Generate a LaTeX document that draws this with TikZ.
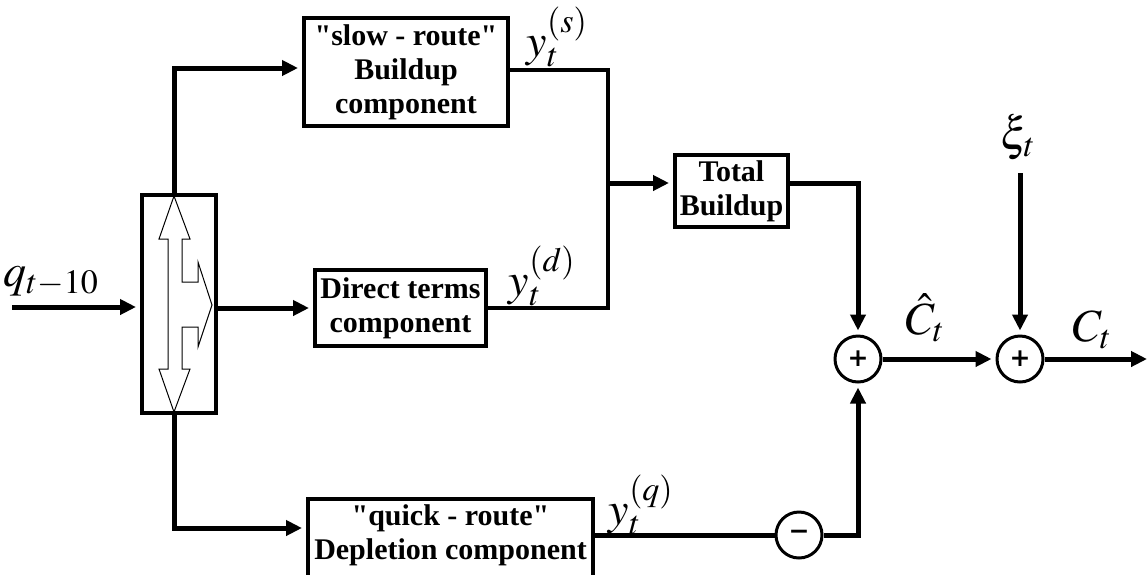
\documentclass[tikz,border=0pt]{standalone}
\usepackage{mathptmx}
\usepackage{fontspec}
\setmainfont{Liberation Serif}
\newfontfamily\signfont{DejaVu Sans}
\usetikzlibrary{arrows.meta,calc}
\begin{document}
\begin{tikzpicture}[x=1pt,y=-1pt,
  blk/.style={draw,line width=4pt,align=center,inner sep=0pt,font=\bfseries\fontsize{30}{34}\selectfont},
  btxt/.style={align=center,inner sep=0pt,font=\bfseries\fontsize{30}{34}\selectfont},
  sumnode/.style={circle,draw,line width=3pt,minimum size=46pt,inner sep=0pt},
  sign/.style={inner sep=0pt,font=\signfont\bfseries\fontsize{25}{25}\selectfont},
  arr/.style={line width=5pt,line join=miter,shorten >=4pt,-{Triangle[length=16pt,width=15pt]}},
  thinline/.style={line width=3.5pt,line join=miter},
  lbl/.style={inner sep=0pt,font=\fontsize{46}{50}\selectfont}]
\useasboundingbox (0,0) rectangle (1147,574);
% blocks
\node[blk,minimum width=204pt,minimum height=108pt] (slow) at (406,72) {\textquotedbl slow - route\textquotedbl\\Buildup\\component};
\node[blk,minimum width=171pt,minimum height=76pt] (direct) at (400.5,308) {Direct terms\\component};
\node[blk,minimum width=285pt,minimum height=84pt] (quick) at (450.5,541) {};
\node[btxt] (quicktxt) at ($(quick.center)+(0,-6)$) {\textquotedbl quick - route\textquotedbl\\Depletion component};
\node[blk,minimum width=74pt,minimum height=218pt] (spl) at (179,304) {};
\node[blk,minimum width=113pt,minimum height=72pt] (total) at (731.5,191) {Total\\Buildup};
\node[sumnode] (sum1) at (858,359) {};
\node[sumnode] (sum2) at (1020,359) {};
\node[sumnode] (minus) at (799,535) {};
\node[sign] (p1) at (sum1.center) {+};
\node[sign] (p2) at (sum2.center) {+};
\node[sign] (m1) at (minus.center) {−};
% splitter inner arrows
\draw[line width=1pt,line join=miter] (174,196) -- (190,239) -- (182,239) -- (182,282) -- (198,282) -- (198,262)
  -- (212,305) -- (198,347) -- (198,327) -- (182,327) -- (182,369) -- (190,369) -- (174,412)
  -- (159,369) -- (168,369) -- (168,239) -- (159,239) -- cycle;
% connectors
\coordinate (in) at (12,307);
\draw[arr] (in) -- (in -| spl.west);
\draw[arr] ($(spl.north)+(-5,0)$) |- ($(slow.west)+(0,-4)$);
\draw[arr] (spl.east |- direct.west) -- (direct.west);
\draw[arr] ($(spl.south)+(-5,0)$) |- ($(quick.west)+(0,-13)$);
\coordinate (m) at (608,183);
\draw[thinline] ($(slow.east)+(0,-2)$) -| (m);
\draw[thinline] (direct.east) -| (m);
\draw[arr] (m) -- (m -| total.west);
\draw[arr] ($(total.east)+(0,-8)$) -| (sum1.north);
\draw[line width=5pt] ($(quick.east)+(0,-6)$) -- (minus.west);
\draw[arr] (minus.east) -| (sum1.south);
\draw[arr] (sum1.east) -- (sum2.west);
\coordinate (xi) at (1020,173);
\draw[arr] (xi) -- (sum2.north);
\coordinate (out) at (1147,359);
\draw[arr,shorten >=0pt] (sum2.east) -- (out);
% labels
\node[lbl] (qlab) at (51,281) {$q_{t-10}$};
\node[lbl] (ys) at (557,37) {$y_t^{(s)}$};
\node[lbl] (yd) at (542,276) {$y_t^{(d)}$};
\node[lbl] (yq) at (641,505) {$y_t^{(q)}$};
\node[lbl] (chat) at (925,318) {$\hat{C}_t$};
\node[lbl] (xilab) at (1018,137) {$\xi_t$};
\node[lbl] (clab) at (1092,330) {$C_t$};
\end{tikzpicture}
\end{document}
